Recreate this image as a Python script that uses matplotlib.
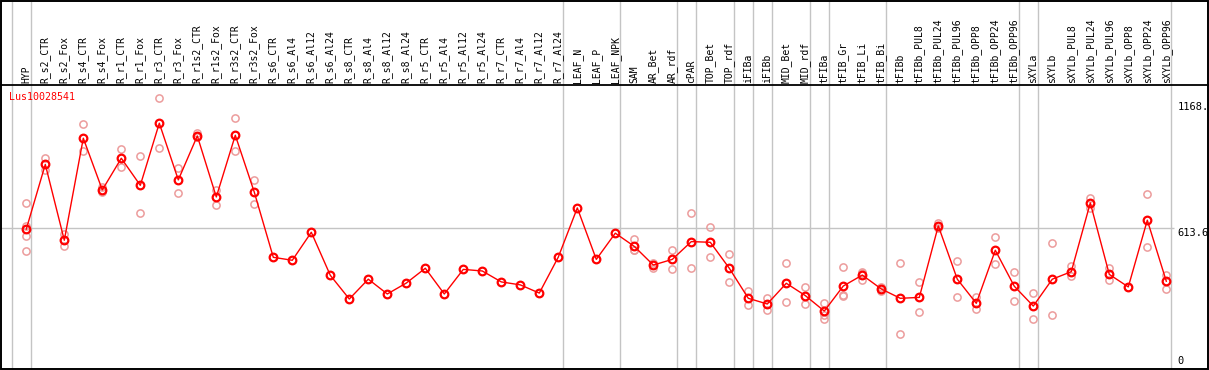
import numpy as np
import matplotlib
matplotlib.use("Agg")
import matplotlib.pyplot as plt
from matplotlib.patches import Rectangle

gene = "Lus10028541"

samples = ["HYP", "R_s2_CTR", "R_s2_Fox", "R_s4_CTR", "R_s4_Fox", "R_r1_CTR", "R_r1_Fox",
           "R_r3_CTR", "R_r3_Fox", "R_r1s2_CTR", "R_r1s2_Fox", "R_r3s2_CTR", "R_r3s2_Fox",
           "R_s6_CTR", "R_s6_Al4", "R_s6_Al12", "R_s6_Al24", "R_s8_CTR", "R_s8_Al4",
           "R_s8_Al12", "R_s8_Al24", "R_r5_CTR", "R_r5_Al4", "R_r5_Al12", "R_r5_Al24",
           "R_r7_CTR", "R_r7_Al4", "R_r7_Al12", "R_r7_Al24", "LEAF_N", "LEAF_P", "LEAF_NPK",
           "SAM", "AR_Bet", "AR_rdf", "cPAR", "TOP_Bet", "TOP_rdf", "iFIBa", "iFIBb",
           "MID_Bet", "MID_rdf", "tFIBa", "tFIB_Gr", "tFIB_Li", "tFIB_Bi", "tFIBb",
           "tFIBb_PUL8", "tFIBb_PUL24", "tFIBb_PUL96", "tFIBb_OPP8", "tFIBb_OPP24",
           "tFIBb_OPP96", "sXYLa", "sXYLb", "sXYLb_PUL8", "sXYLb_PUL24", "sXYLb_PUL96",
           "sXYLb_OPP8", "sXYLb_OPP24", "sXYLb_OPP96"]

# mean expression per sample
means = [610, 894, 561, 1009, 782, 921, 802, 1075, 826, 1019, 751, 1022, 772,
         486, 473, 596, 407, 303, 390, 325, 373, 438, 325, 433, 426, 378, 365, 329, 487,
         703, 477, 592, 534, 452, 477, 555, 552, 438, 306, 281, 372, 318, 250, 360, 408,
         347, 306, 310, 624, 390, 284, 517, 359, 272, 390, 423, 725, 411, 356, 649, 381]

# individual replicates (empty where hidden behind the mean)
replicates = [[723, 625, 581, 512], [921, 869], [587, 537], [1070, 953], [794, 772],
              [960, 881], [930, 679], [1184, 965], [880, 767], [1031, 1013], [782, 717],
              [1096, 952], [824, 719],
              [], [], [], [], [], [], [], [], [], [], [], [], [], [], [], [], [], [], [],
              [565, 520, 518], [460, 440], [517, 433], [679, 438], [618, 486], [501, 376],
              [338, 275], [306, 253], [461, 289], [354, 281], [284, 233, 217],
              [444, 318, 322], [386, 416, 423], [338, 355], [461, 148], [376, 245],
              [635, 613], [469, 310], [312, 260], [574, 455], [420, 293], [329, 215],
              [548, 231], [448, 404], [745, 701], [438, 386], [356], [763, 533], [408, 348]]

# group separators sit just right of these sample indices
group_ends = [-1, 0, 28, 31, 34, 35, 37, 38, 39, 41, 42, 45, 52, 53, 60]

y_ticks = [1168, 613.6, 0]
y_tick_labels = ["1168.", "613.6", "0"]

fig = plt.figure(figsize=(12.09, 3.70), dpi=100)
ax = fig.add_axes([0, 0, 1, 1])
ax.set_axis_off()

px = 1 / 19.0
x0 = -26.3 * px
ax.set_xlim(x0, x0 + 1209 * px)
vpp = 1168 / 266.0
ax.set_ylim(-2 * vpp, 368 * vpp)
label_base = 285 * vpp
head_line = 283 * vpp

font = "DejaVu Sans Mono"

for g in group_ends:
    ax.axvline(g + 0.23, color="#c4c4c4", lw=1, zorder=1)
ax.hlines(613.6, x0, 60.4, color="#c4c4c4", lw=1, zorder=1)
ax.axhline(head_line, color="black", lw=1.3, zorder=2)

x = np.arange(len(samples))
for i, reps in enumerate(replicates):
    if reps:
        ax.plot([i] * len(reps), reps, "o", ms=5.2, mfc="none", mec="#ec9c9c", mew=1.1, zorder=3)
ax.plot(x, means, "-", color="red", lw=1, zorder=4)
ax.plot(x, means, "o", ms=5.5, mfc="none", mec="red", mew=1.6, zorder=5)

for i, s in enumerate(samples):
    ax.text(i, label_base, s, rotation=90, ha="center", va="bottom", fontsize=7.0,
            family=font, color="black")

ax.text(-1.38 + 9.3 * px, 1191, gene, ha="left", va="center", fontsize=7.2, family=font, color="red")

for v, lab in zip(y_ticks, y_tick_labels):
    if v == 0:
        ax.text(60.6, 10, lab, ha="left", va="bottom", fontsize=7.5, family=font)
    else:
        ax.text(60.6, v, lab, ha="left", va="top", fontsize=7.5, family=font)

fig.patches.append(Rectangle((0.6 / 1209, 1.2 / 370), 1207.6 / 1209, 368.2 / 370,
                             transform=fig.transFigure, fill=False, ec="black", lw=1.4))

fig.savefig("out.png", dpi=100, facecolor="white")
